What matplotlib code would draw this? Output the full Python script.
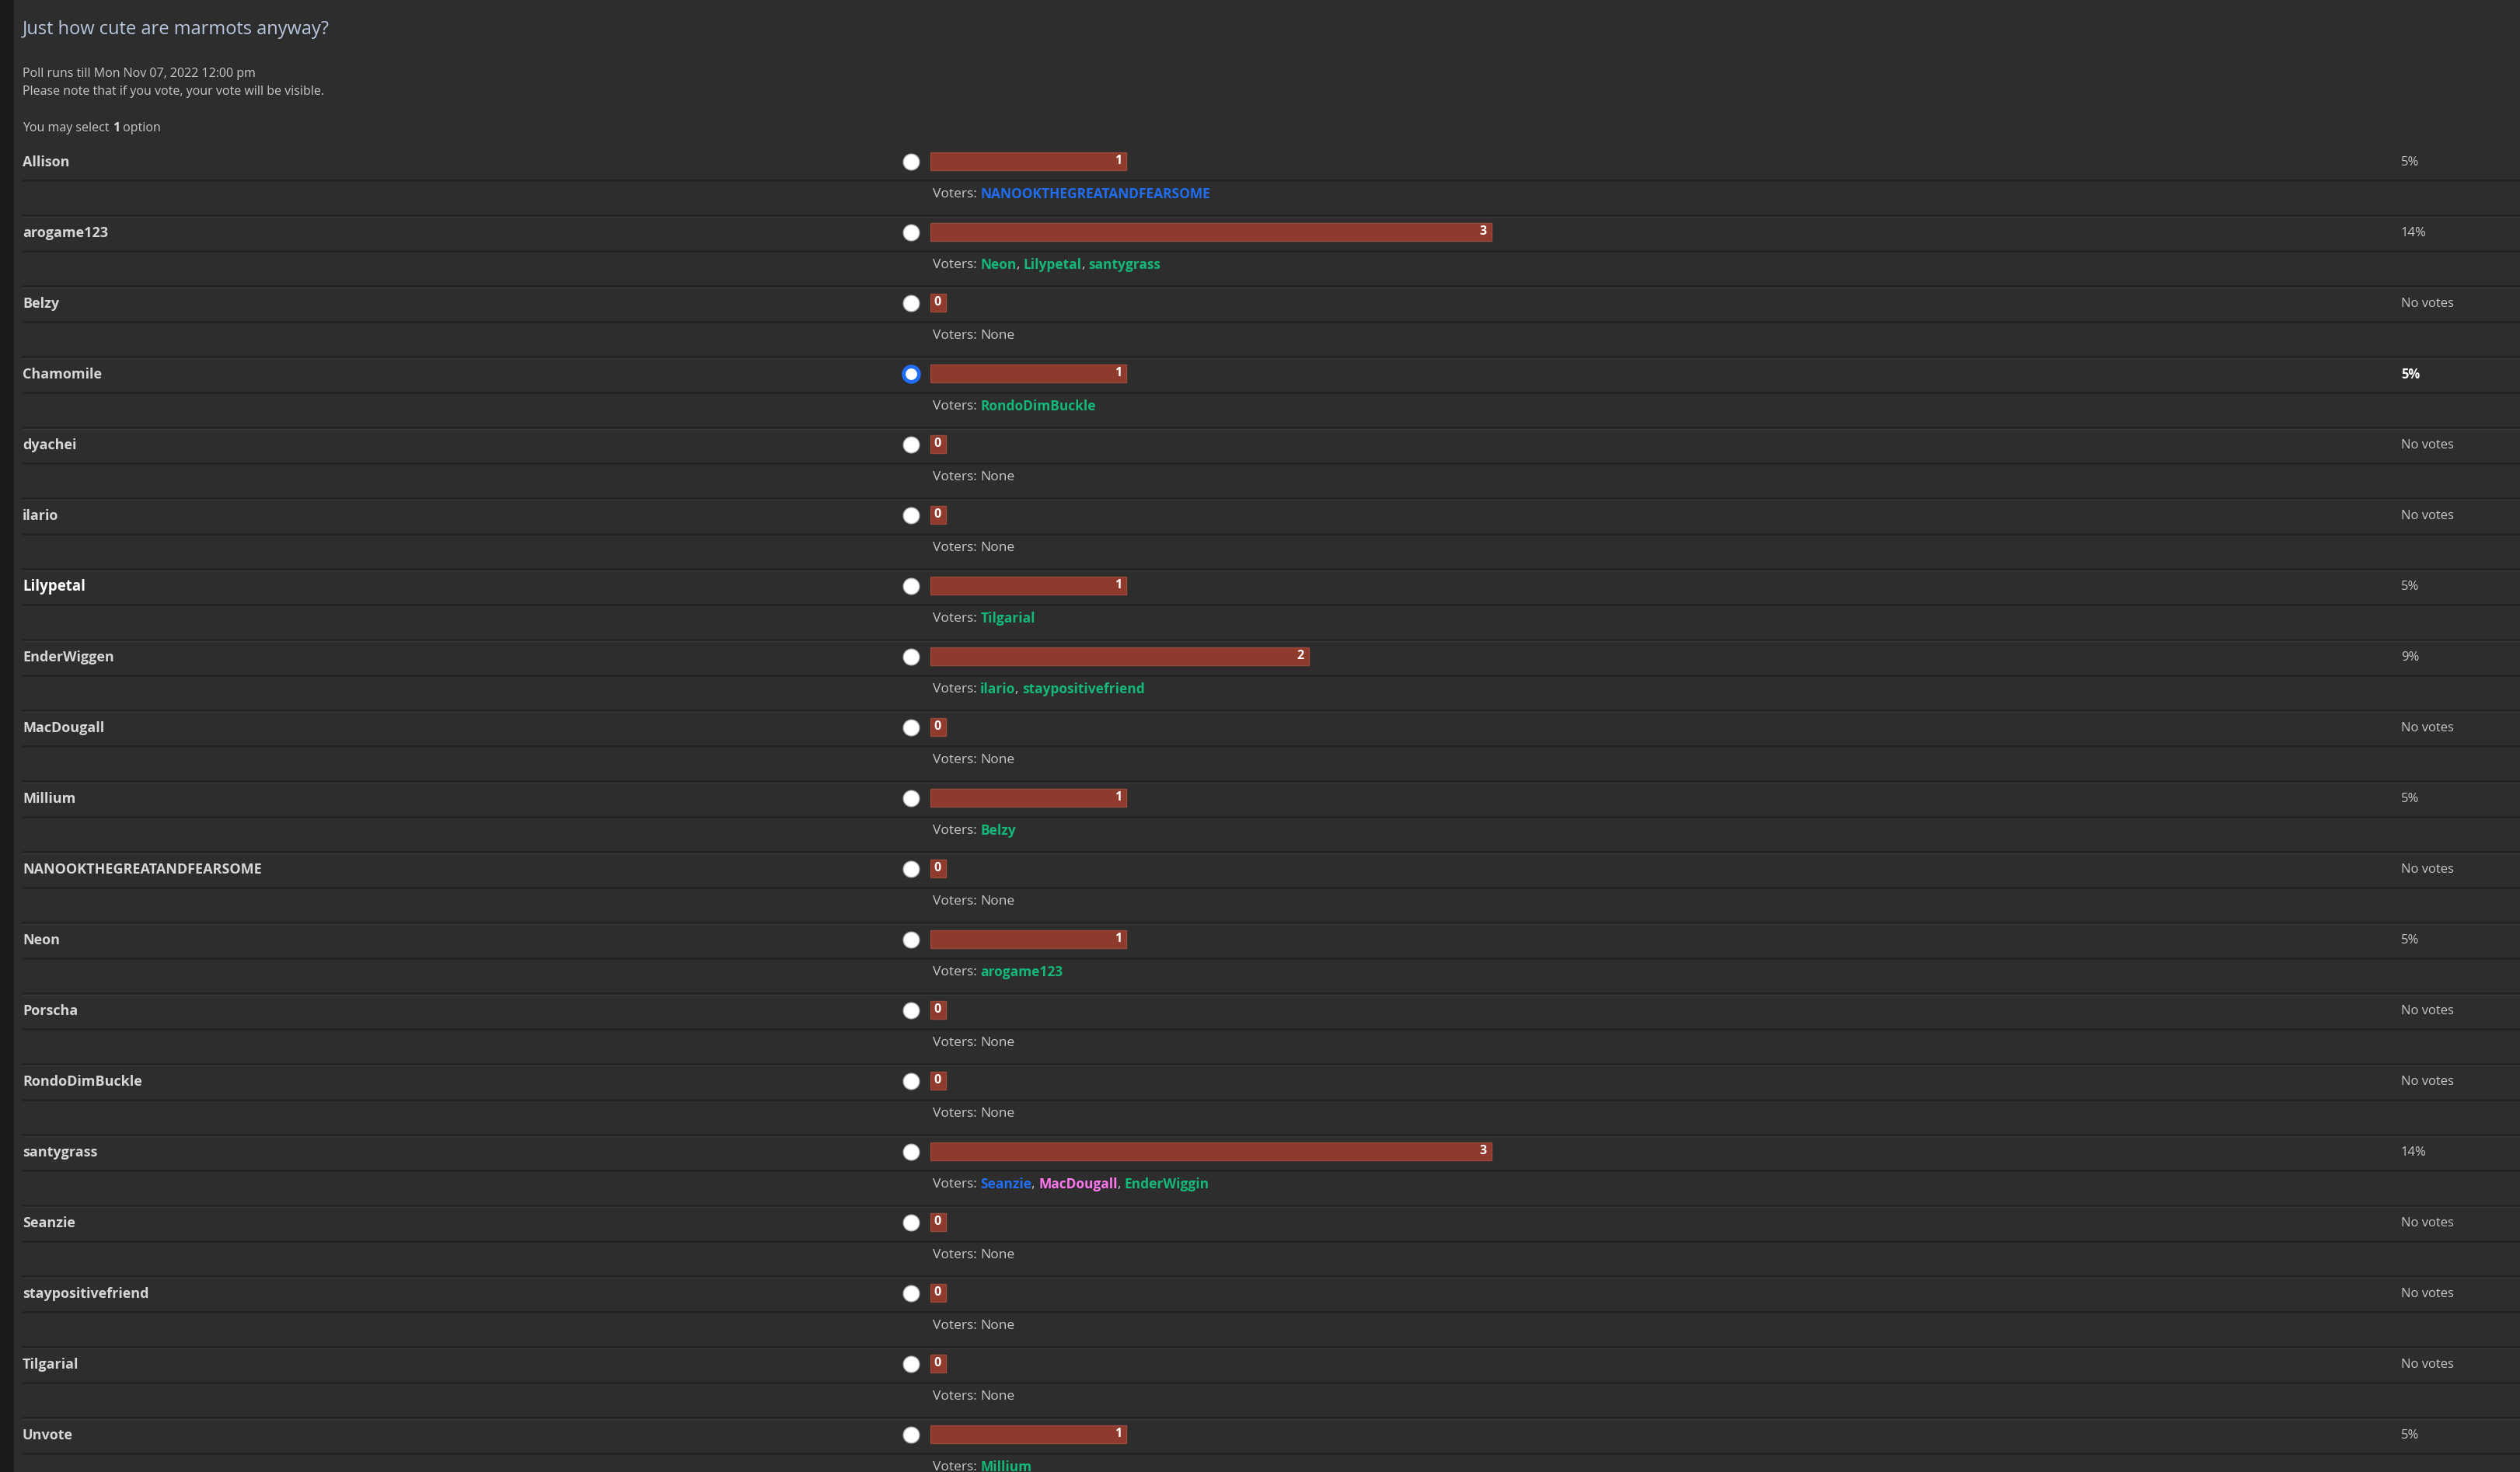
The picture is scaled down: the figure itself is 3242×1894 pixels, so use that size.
import matplotlib
matplotlib.use("Agg")
import matplotlib.pyplot as plt

options = ["Allison", "arogame123", "Belzy", "Chamomile", "dyachei", "ilario", "Lilypetal",
           "EnderWiggen", "MacDougall", "Millium", "NANOOKTHEGREATANDFEARSOME", "Neon", "Porscha",
           "RondoDimBuckle", "santygrass", "Seanzie", "staypositivefriend", "Tilgarial", "Unvote"]
votes = [1, 3, 0, 1, 0, 0, 1, 2, 0, 1, 0, 1, 0, 0, 3, 0, 0, 0, 1]
percents = ["5%", "14%", "No votes", "5%", "No votes", "No votes", "5%", "9%", "No votes", "5%",
            "No votes", "5%", "No votes", "No votes", "14%", "No votes", "No votes", "No votes", "5%"]
voters = [[("NANOOKTHEGREATANDFEARSOME", "b")], [("Neon", "g"), ("Lilypetal", "g"), ("santygrass", "g")],
          [], [("RondoDimBuckle", "g")], [], [], [("Tilgarial", "g")],
          [("ilario", "g"), ("staypositivefriend", "g")], [], [("Belzy", "g")], [],
          [("arogame123", "g")], [], [], [("Seanzie", "b"), ("MacDougall", "p"), ("EnderWiggin", "g")],
          [], [], [], [("Millium", "g")]]
selected = 3
bold_name = 6

W, H = 3242, 1894
BG = "#2d2d2d"
TXT = "#c8c8c8"
VC = {"b": "#1f6ef5", "g": "#14b878", "p": "#ff77ee"}
FONT = "Open Sans"

fig = plt.figure(figsize=(W / 100, H / 100), dpi=100, facecolor=BG)
ax = fig.add_axes([0, 0, 1, 1])
ax.set_xlim(0, W)
ax.set_ylim(H, 0)
ax.axis("off")
ax.set_facecolor(BG)
ax.axvspan(0, 17, color="#1b1b1b", zorder=0)

ax.text(29, 38, "Just how cute are marmots anyway?", fontsize=17, color="#b8c8e0", va="center", family=FONT)
ax.text(29, 95, "Poll runs till Mon Nov 07, 2022 12:00 pm", fontsize=11.5, color=TXT, va="center", family=FONT)
ax.text(29, 118, "Please note that if you vote, your vote will be visible.", fontsize=11.5, color=TXT, va="center", family=FONT)
t = ax.text(29, 165, "You may select ", fontsize=11.5, color=TXT, va="center", family=FONT)
fig.canvas.draw()
r = fig.canvas.get_renderer()


def after(prev, s, color, weight="normal", size=11.5):
    bb = prev.get_window_extent(r)
    x_data = ax.transData.inverted().transform((bb.x1, 0))[0]
    y = prev.get_position()[1]
    return ax.text(x_data, y, s, fontsize=size, color=color, va="center", family=FONT, weight=weight)


t2 = after(t, "1", "#e0e0e0", "bold")
after(t2, " option", TXT)

x0 = 1197
unit = 235
minw = 17
y0 = 207
step = 91
ys = [y0 + step * i for i in range(len(options))]
widths = [minw + 3 + unit * v - (0 if v == 0 else 3) for v in votes]
ax.barh(ys, widths, left=x0, height=23, color="#8e3b2d", edgecolor="#9a4a3a", linewidth=1, zorder=3)

for i, y in enumerate(ys):
    ax.plot([29, W], [y + 25, y + 25], color="#222222", lw=2, zorder=1)
    ax.plot([29, W], [y + 70, y + 70], color="#222222", lw=2, zorder=1)
    ax.plot([29, W], [y + 72, y + 72], color="#3a3a3a", lw=1, zorder=1)
    ax.text(29, y + 2, options[i], fontsize=13 if i != bold_name else 13.5,
            color="#d6d6d6" if i != bold_name else "#ffffff",
            weight="bold", va="center", family=FONT)
    if i == selected:
        ax.scatter([1172], [y + 1], s=200, color="white", edgecolors="#1f6ef5", linewidths=3.5, zorder=4)
    else:
        ax.scatter([1172], [y + 1], s=220, color="white", edgecolors="#bbbbbb", linewidths=1, zorder=4)
    ax.text(x0 + widths[i] - 6, y, str(votes[i]), fontsize=11.5, color="white", weight="bold",
            ha="right", va="center", family=FONT, zorder=5)
    ax.text(3089, y + 2, percents[i], fontsize=12, color="#ffffff" if i == selected else TXT,
            weight="bold" if i == selected else "normal", va="center", family=FONT)
    vy = y + 43
    tv = ax.text(1200, vy, "Voters: ", fontsize=12.5, color=TXT, va="center", family=FONT)
    if not voters[i]:
        after(tv, "None", TXT, size=12.5)
    else:
        prev = tv
        for k, (nm, c) in enumerate(voters[i]):
            prev = after(prev, nm, VC[c], "bold", size=12.5)
            if k < len(voters[i]) - 1:
                prev = after(prev, ", ", TXT, size=12.5)

fig.savefig("out.png", dpi=100, facecolor=BG)
